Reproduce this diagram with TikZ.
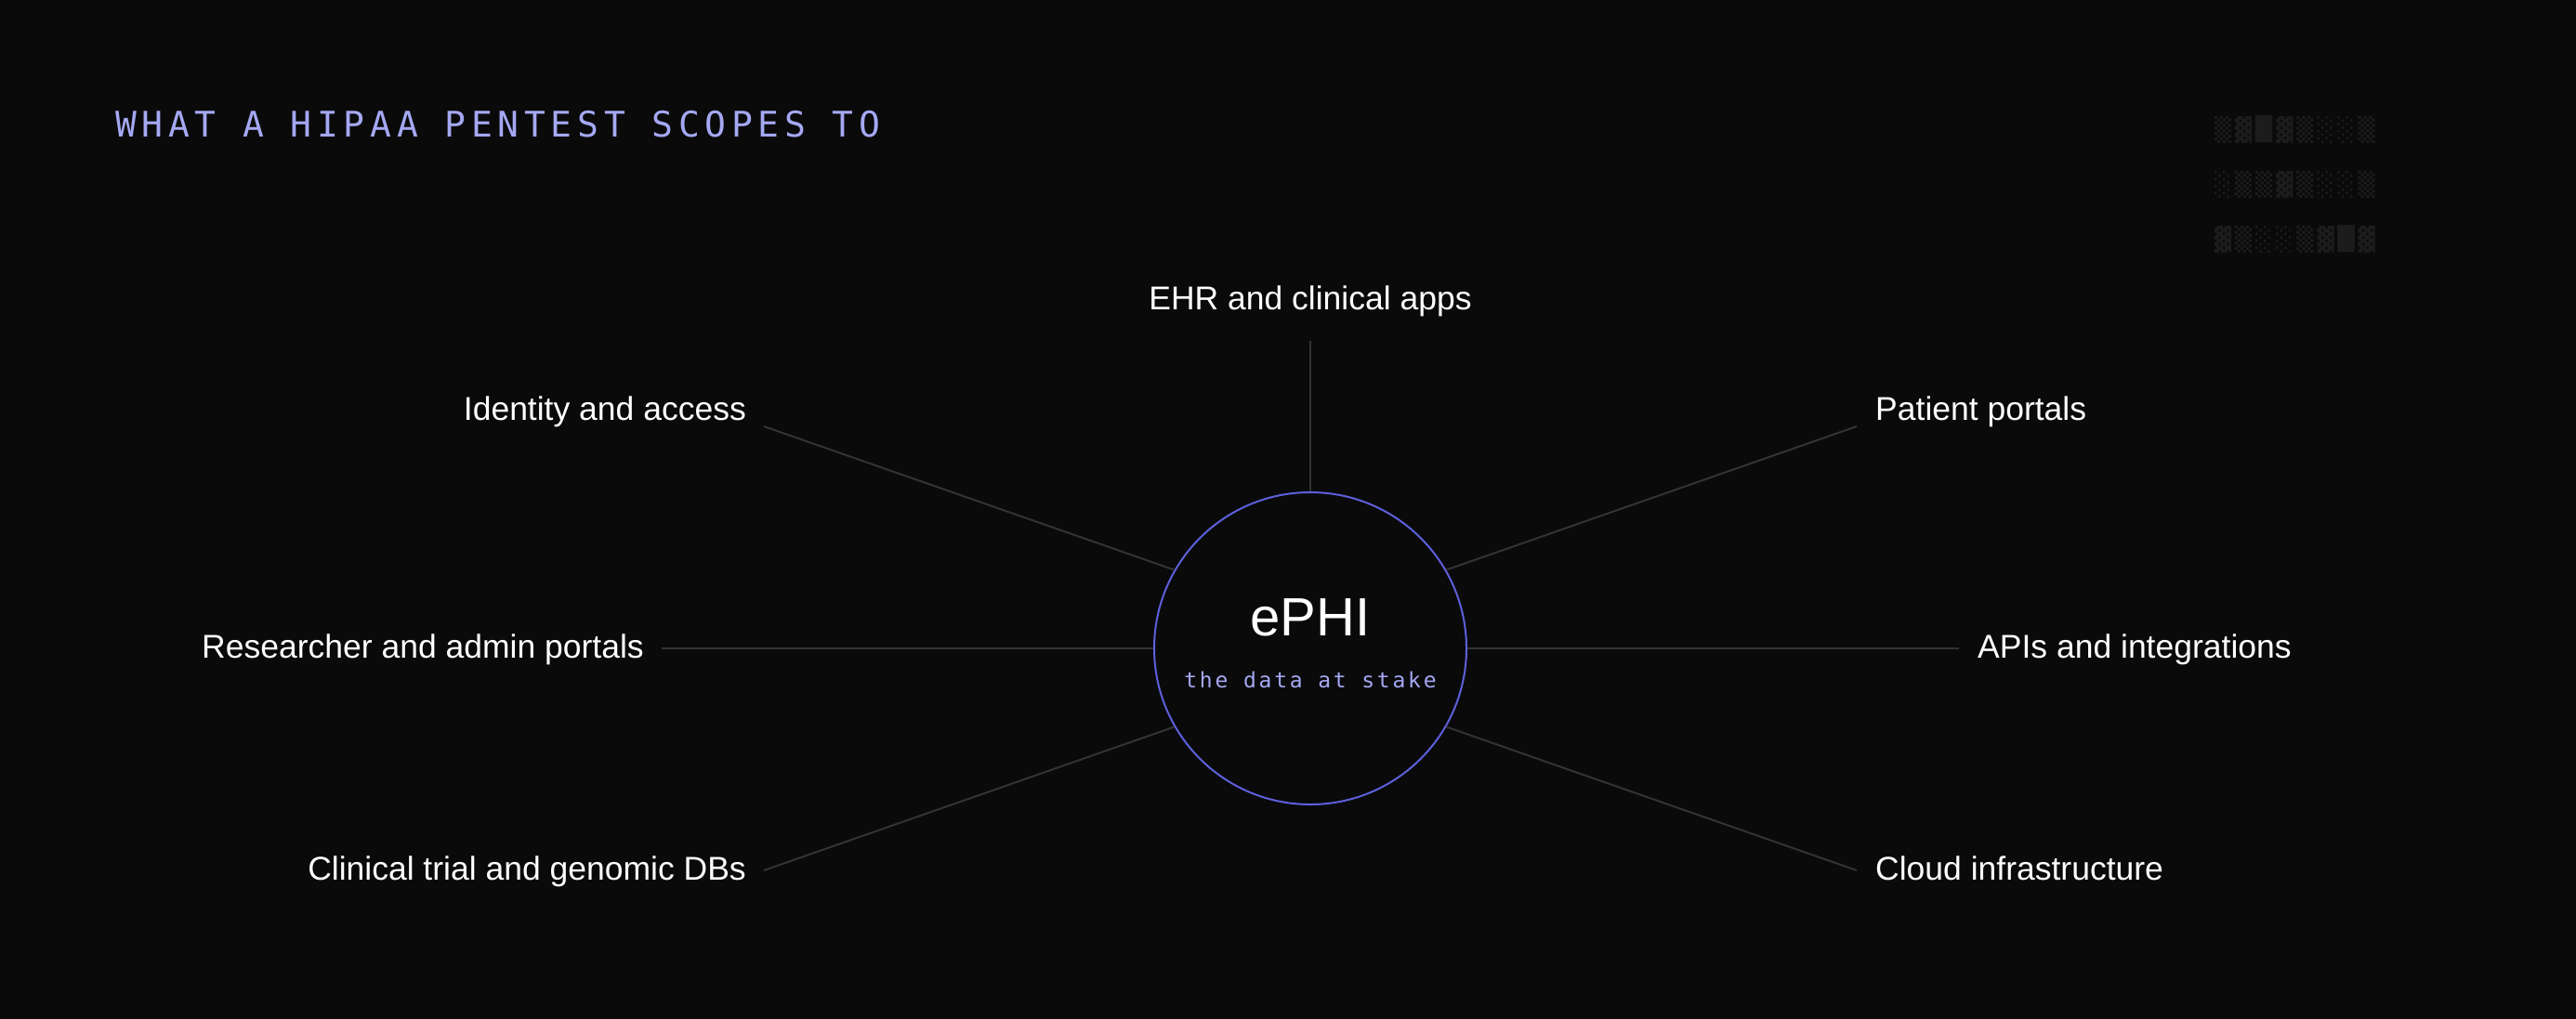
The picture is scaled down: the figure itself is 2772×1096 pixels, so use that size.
\documentclass[tikz,border=0pt]{standalone}
\usepackage{fontspec}
\usepackage{graphicx}
\setmainfont{Liberation Sans}
\newfontfamily\monofont{DejaVu Sans Mono}[LetterSpace=15]
\newfontfamily\submono{DejaVu Sans Mono}[LetterSpace=12]
\newfontfamily\blkfont{DejaVu Sans Mono}
\definecolor{bg}{HTML}{0A0A0A}
\definecolor{lav}{HTML}{A5A8F3}
\definecolor{ring}{HTML}{5E5FDB}
\definecolor{linegray}{HTML}{333333}
\definecolor{blk}{HTML}{1C1C1C}
\begin{document}
\begin{tikzpicture}[x=1pt,y=-1pt,
  lbl/.style={text=white, inner sep=0pt, font=\fontsize{35.5}{40}\selectfont},
  conn/.style={draw=linegray, line width=2pt},
  glyph/.style={text=blk, inner sep=0pt, font=\blkfont\fontsize{30}{30}\selectfont}]
\useasboundingbox (0,0) rectangle (2772,1096);
\fill[bg] (-6,-6) rectangle (2778,1102);

% title
\node[anchor=base west, inner sep=0pt, text=lav, font=\monofont\fontsize{38}{40}\selectfont] (title) at (124,147) {WHAT A HIPAA PENTEST SCOPES TO};

% decorative glyph grid
\foreach \ch [count=\i from 0] in {▒,▓,█,▓,▒,░,░,▒}
  \node[glyph] (ga\i) at ({2392+22.1*\i},139.5) {\resizebox*{18pt}{29pt}{\ch}};
\foreach \ch [count=\i from 0] in {░,▒,▒,▓,▒,░,░,▒}
  \node[glyph] (gb\i) at ({2392+22.1*\i},198.5) {\resizebox*{18pt}{29pt}{\ch}};
\foreach \ch [count=\i from 0] in {▓,▒,░,░,▒,▓,█,▓}
  \node[glyph] (gc\i) at ({2392+22.1*\i},257.5) {\resizebox*{18pt}{29pt}{\ch}};

% centre
\node[circle, draw=ring, line width=2pt, minimum size=336pt, inner sep=0pt] (c) at (1410,698) {};
\node[anchor=base, inner sep=0pt, text=white, font=\fontsize{58}{60}\selectfont] (ephi) at (1410,684) {ePHI};
\node[anchor=base, inner sep=0pt, text=lav, font=\submono\fontsize{23}{25}\selectfont] (sub) at (1410,740) {the data at stake};

% labels
\node[lbl, anchor=base] (ehr) at (1410,333) {EHR and clinical apps};
\node[lbl, anchor=base east] (ident) at (803,452) {Identity and access};
\node[lbl, anchor=base west] (patient) at (2018,452) {Patient portals};
\node[lbl, anchor=base east] (research) at (693,708) {Researcher and admin portals};
\node[lbl, anchor=base west] (apis) at (2128,708) {APIs and integrations};
\node[lbl, anchor=base east] (clin) at (803,947) {Clinical trial and genomic DBs};
\node[lbl, anchor=base west] (cloud) at (2018,947) {Cloud infrastructure};

% connector free ends
\coordinate (ehrE) at (1410,367);
\coordinate (identE) at (822,459);
\coordinate (patientE) at (1998,459);
\coordinate (researchE) at (712,698);
\coordinate (apisE) at (2108,698);
\coordinate (clinE) at (822,937);
\coordinate (cloudE) at (1998,937);

\draw[conn] (ehrE) -- (c.north);
\draw[conn] (identE) -- (c.150);
\draw[conn] (patientE) -- (c.30);
\draw[conn] (researchE) -- (c.west);
\draw[conn] (apisE) -- (c.east);
\draw[conn] (clinE) -- (c.210);
\draw[conn] (cloudE) -- (c.330);
\end{tikzpicture}
\end{document}
